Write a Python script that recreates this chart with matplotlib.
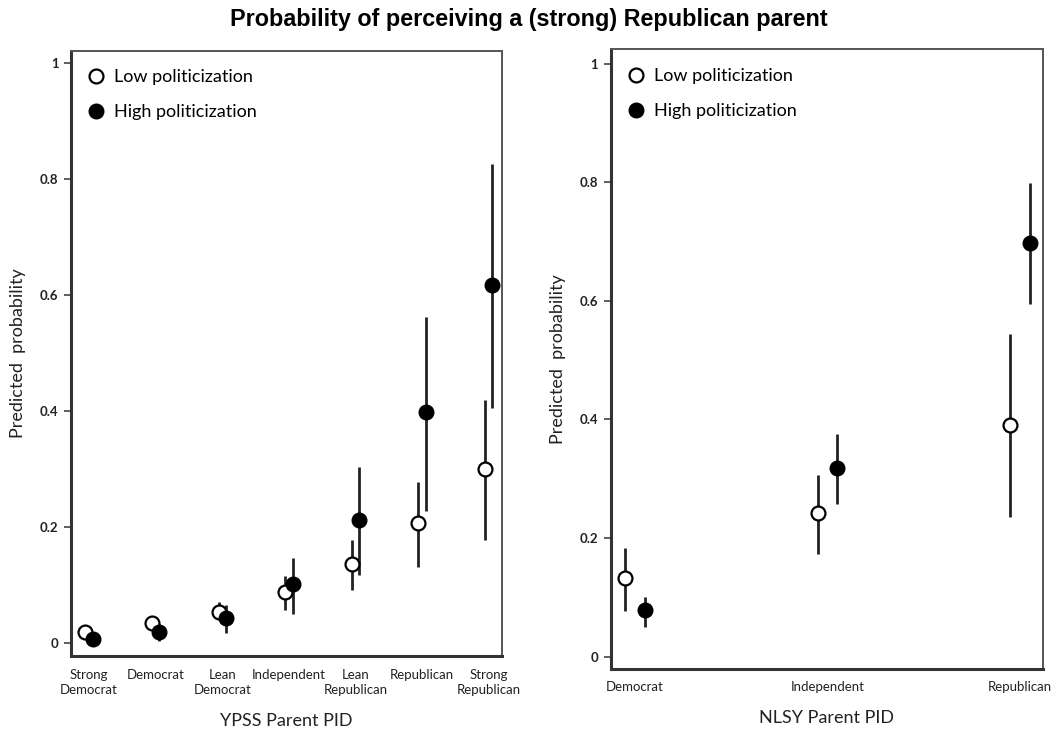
import numpy as np
import matplotlib.pyplot as plt

# YPSS panel (left)
ypss_cats = ["Strong\nDemocrat", "Democrat", "Lean\nDemocrat", "Independent",
             "Lean\nRepublican", "Republican", "Strong\nRepublican"]
ypss_low = [0.020, 0.035, 0.054, 0.089, 0.136, 0.207, 0.300]
ypss_low_lo = [0.012, 0.025, 0.040, 0.058, 0.091, 0.132, 0.178]
ypss_low_hi = [0.030, 0.047, 0.071, 0.115, 0.178, 0.278, 0.420]
ypss_high = [0.007, 0.020, 0.044, 0.102, 0.212, 0.398, 0.617]
ypss_high_lo = [0.002, 0.004, 0.017, 0.051, 0.117, 0.228, 0.405]
ypss_high_hi = [0.013, 0.033, 0.066, 0.147, 0.303, 0.562, 0.826]

# NLSY panel (right)
nlsy_cats = ["Democrat", "Independent", "Republican"]
nlsy_low = [0.132, 0.243, 0.390]
nlsy_low_lo = [0.078, 0.173, 0.235]
nlsy_low_hi = [0.184, 0.307, 0.544]
nlsy_high = [0.079, 0.319, 0.698]
nlsy_high_lo = [0.050, 0.257, 0.595]
nlsy_high_hi = [0.101, 0.376, 0.799]

yticks = [0, 0.2, 0.4, 0.6, 0.8, 1]
ytick_labels = ["0", "0.2", "0.4", "0.6", "0.8", "1"]

plt.rcParams["font.family"] = ["Lato", "DejaVu Sans"]
dark = "#222222"

fig = plt.figure(figsize=(10.57, 7.30), dpi=100)
ax1 = fig.add_axes([0.0672, 0.1007, 0.4078, 0.830])
ax2 = fig.add_axes([0.5778, 0.0840, 0.4087, 0.8485])


def draw_panel(ax, cats, low, low_lo, low_hi, high, high_lo, high_hi, off, xlim, ylim, xlabel):
    x = np.arange(1, len(cats) + 1)
    ax.vlines(x - off, low_lo, low_hi, color=dark, lw=2.0, zorder=2)
    ax.vlines(x + off, high_lo, high_hi, color=dark, lw=2.0, zorder=2)
    ax.plot(x - off, low, "o", ms=10, mfc="white", mec="black", mew=1.6,
            ls="none", zorder=3, label="Low politicization")
    ax.plot(x + off, high, "o", ms=10.5, mfc="black", mec="black",
            ls="none", zorder=3, label="High politicization")
    ax.set_xlim(*xlim)
    ax.set_ylim(*ylim)
    ax.set_xticks(x)
    ax.set_xticklabels(cats, fontsize=9.5, color=dark, linespacing=1.35)
    ax.tick_params(axis="x", length=0, pad=9)
    ax.set_yticks(yticks)
    ax.set_yticklabels(ytick_labels, fontsize=9.5, color=dark, fontweight="bold")
    ax.tick_params(axis="y", length=5, width=1.2, color="#444444", pad=4)
    for side in ["left", "bottom"]:
        ax.spines[side].set_linewidth(2.2)
        ax.spines[side].set_color("#333333")
    for side in ["top", "right"]:
        ax.spines[side].set_linewidth(1.4)
        ax.spines[side].set_color("#555555")
    ax.set_ylabel("Predicted  probability", fontsize=13, color=dark, labelpad=10)
    ax.set_xlabel(xlabel, fontsize=13, color=dark, labelpad=12)
    ax.legend(loc="upper left", frameon=False, fontsize=13, handletextpad=0.6,
              labelspacing=1.05, borderaxespad=0.6, handlelength=0.8,
              bbox_to_anchor=(0.0, 0.999))


draw_panel(ax1, ypss_cats, ypss_low, ypss_low_lo, ypss_low_hi,
           ypss_high, ypss_high_lo, ypss_high_hi, 0.055,
           (0.73, 7.20), (-0.023, 1.022), "YPSS Parent PID")
draw_panel(ax2, nlsy_cats, nlsy_low, nlsy_low_lo, nlsy_low_hi,
           nlsy_high, nlsy_high_lo, nlsy_high_hi, 0.05,
           (0.874, 3.118), (-0.020, 1.024), "NLSY Parent PID")

fig.text(0.5, 0.973, "Probability of perceiving a (strong) Republican parent",
         ha="center", va="center", fontsize=16.8, fontweight="bold",
         family="Liberation Sans")

fig.savefig("out.png", dpi=100)
